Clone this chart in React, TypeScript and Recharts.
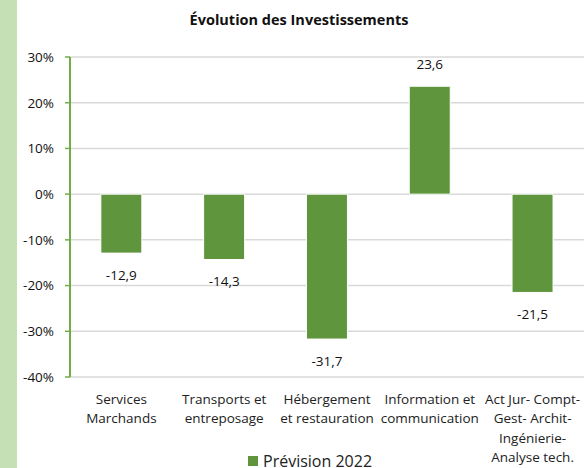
import { Bar, BarChart, CartesianGrid, LabelList, XAxis, YAxis } from "recharts";

const categories = [
  ["Services", "Marchands"],
  ["Transports et", "entreposage"],
  ["Hébergement", "et restauration"],
  ["Information et", "communication"],
  ["Act Jur- Compt-", "Gest- Archit-", "Ingénierie-", "Analyse tech."],
];
const prevision2022 = [-12.9, -14.3, -31.7, 23.6, -21.5];
const yTicks = [-40, -30, -20, -10, 0, 10, 20, 30];

const seriesName = "Prévision 2022";
const title = "Évolution des Investissements";

const FONT = "'Open Sans', 'Noto Sans', sans-serif";
const BAR = "#5f953d";
const AXIS = "#70ad47";

const data = categories.map((lines, i) => ({ name: lines.join(" "), lines, value: prevision2022[i] }));

const CategoryTick = ({ x, y, index }: any) => {
  const lines = categories[index] ?? [];
  return (
    <text x={x} y={y} textAnchor="middle" fontFamily={FONT} fontSize={13.5} fill="#222">
      {lines.map((l, i) => (
        <tspan key={i} x={x} y={y + 19 + i * 19.3}>
          {l}
        </tspan>
      ))}
    </text>
  );
};

const ValueLabel = ({ x, y, width, height, value }: any) => {
  const top = Math.min(y, y + height);
  const bottom = Math.max(y, y + height);
  const cy = value >= 0 ? top - 22 : bottom + 22;
  return (
    <text
      x={x + width / 2}
      y={cy}
      dy="0.35em"
      textAnchor="middle"
      fontFamily={FONT}
      fontSize={13.5}
      fill="#111"
    >
      {String(value).replace(".", ",")}
    </text>
  );
};

export default function App() {
  return (
    <div style={{ position: "fixed", left: 0, top: 0, width: 584, height: 468, background: "#fff", overflow: "hidden" }}>
      <div style={{ position: "absolute", left: 0, top: 0, width: 17, height: 468, background: "#c5e0b4" }} />
      <div
        style={{
          position: "absolute",
          left: 0,
          width: 598,
          top: 10,
          textAlign: "center",
          fontFamily: FONT,
          fontWeight: 700,
          fontSize: 14.5,
          color: "#111",
        }}
      >
        {title}
      </div>
      <BarChart
        width={584}
        height={468}
        data={data}
        margin={{ top: 57, right: 0, bottom: 11, left: 0 }}
        barCategoryGap="30%"
        style={{ position: "absolute", left: 0, top: 0 }}
      >
        <CartesianGrid horizontal vertical={false} stroke="#d9d9d9" strokeWidth={1.5} />
        <XAxis
          dataKey="name"
          axisLine={false}
          tickLine={false}
          height={80}
          interval={0}
          tick={<CategoryTick />}
        />
        <YAxis
          domain={[-40, 30]}
          ticks={yTicks}
          width={70}
          interval={0}
          axisLine={{ stroke: AXIS, strokeWidth: 2 }}
          tickLine={{ stroke: AXIS, strokeWidth: 1.5 }}
          tickSize={5}
          tickMargin={11}
          tickFormatter={(v) => `${v}%`}
          tick={{ fontFamily: FONT, fontSize: 13.5, fill: "#111" }}
        />
        <Bar dataKey="value" fill={BAR} stroke="#fff" strokeWidth={1} isAnimationActive={false}>
          <LabelList dataKey="value" content={<ValueLabel />} />
        </Bar>
      </BarChart>
      <div
        style={{
          position: "absolute",
          left: 248,
          top: 450,
          display: "flex",
          alignItems: "center",
          fontFamily: FONT,
          fontSize: 16,
          color: "#222",
        }}
      >
        <span style={{ display: "inline-block", width: 10, height: 10, background: BAR, marginRight: 5 }} />
        {seriesName}
      </div>
    </div>
  );
}
